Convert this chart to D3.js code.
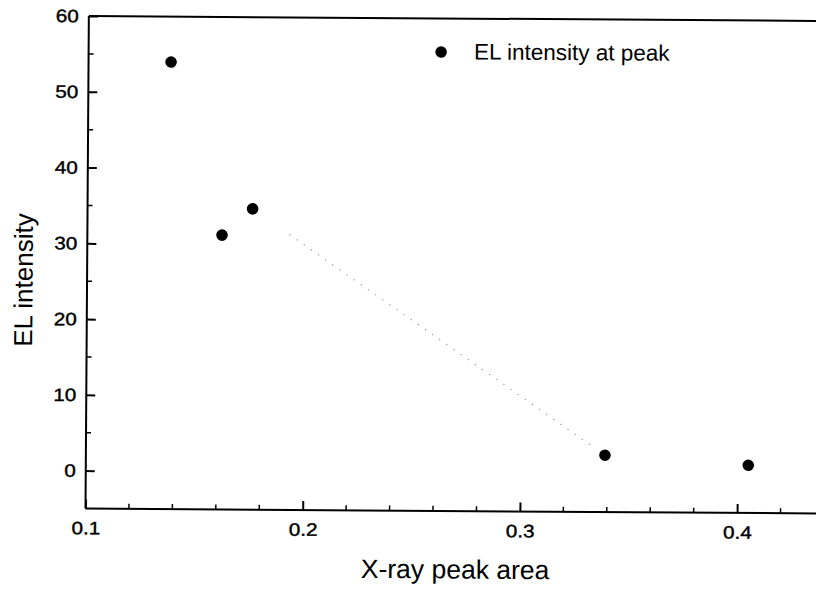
<!DOCTYPE html>
<html>
<head>
<meta charset="utf-8">
<script src="https://cdn.jsdelivr.net/npm/d3@7"></script>
<style>
  html, body { margin: 0; padding: 0; background: #fff; }
  svg { display: block; }
  text { font-family: "Liberation Sans", Arial, sans-serif; fill: #000; }
</style>
</head>
<body>
<svg id="chart" width="816" height="591"></svg>
<script>
// ---- data ----
const xValues = [0.138, 0.162, 0.176, 0.339, 0.405];
const yValues = [54.0, 31.2, 34.7, 2.5, 1.3];
const seriesName = "EL intensity at peak";
const xTicks = [0.1, 0.2, 0.3, 0.4];
const yTicks = [0, 10, 20, 30, 40, 50, 60];
const xLabel = "X-ray peak area";
const yLabel = "EL intensity";
// dotted guide between 3rd and 4th points
const guideIdx = [2, 3];

// ---- layout ----
const svg = d3.select("#chart");
const ox = 85.5, oy = 508.5;
const x = d3.scaleLinear().domain([0.1, 0.45]).range([ox, ox + 0.35 * 2172]);
const y = d3.scaleLinear().domain([-5, 60]).range([oy, 16]);
const stretch = 1.15;

const g = svg.append("g").attr("transform", `rotate(0.39, ${ox}, ${oy})`);

// frame top line
g.append("line")
  .attr("x1", x(0.1)).attr("x2", x(0.45))
  .attr("y1", y(60)).attr("y2", y(60))
  .attr("stroke", "#000").attr("stroke-width", 2);

// x axis
const xAxis = d3.axisBottom(x).tickValues(xTicks).tickFormat(d3.format(".1f"))
  .tickSizeInner(-9).tickSizeOuter(0).tickPadding(13);
const gx = g.append("g").attr("transform", `translate(0,${oy})`).call(xAxis);
const xMinor = d3.range(0.12, 0.45, 0.02).filter(v => !xTicks.some(t => Math.abs(t - v) < 1e-6));
gx.selectAll(".minor").data(xMinor).enter().append("line")
  .attr("class", "minor")
  .attr("x1", d => x(d)).attr("x2", d => x(d))
  .attr("y1", 0).attr("y2", -5).attr("stroke", "#000").attr("stroke-width", 1.5);

// y axis
const yAxis = d3.axisLeft(y).tickValues(yTicks).tickFormat(d3.format("d"))
  .tickSizeInner(-9).tickSizeOuter(0).tickPadding(10);
const gy = g.append("g").attr("transform", `translate(${ox},0)`).call(yAxis);
const yMinor = d3.range(-5, 60, 5).filter(v => !yTicks.includes(v) && v > -5);
gy.selectAll(".minor").data(yMinor).enter().append("line")
  .attr("class", "minor")
  .attr("x1", 0).attr("x2", 5)
  .attr("y1", d => y(d)).attr("y2", d => y(d))
  .attr("stroke", "#000").attr("stroke-width", 1.5);

[gx, gy].forEach(a => {
  a.attr("font-size", null).attr("font-family", null);
  a.select(".domain").attr("stroke", "#000").attr("stroke-width", 2);
  a.selectAll(".tick line").attr("stroke", "#000").attr("stroke-width", 2);
  a.selectAll(".tick text")
   .attr("font-size", 18)
   .style("font-size", "18px")
   .style("font-family", '"Liberation Sans", Arial, sans-serif')
   .style("stroke", "#000").style("stroke-width", "0.4px")
   .attr("transform", `scale(${stretch},1)`);
});
gy.selectAll(".tick text").attr("x", -10 / stretch);
gy.select(".domain").attr("d", `M0,${y(-5)}V${y(60)}`);
gx.select(".domain").attr("d", `M${x(0.1)},0H${x(0.45)}`);

// dotted guide line
const pts = xValues.map((v, i) => [x(v), y(yValues[i])]);
const guide = g.append("path")
  .attr("d", d3.line()(guideIdx.map(i => pts[i])))
  .attr("fill", "none").attr("stroke", "#9a9a9a").attr("stroke-width", 1.2);
const L = guide.node().getTotalLength();
const startGap = 45, endGap = 10;
let dash = [0, startGap];
let used = startGap;
while (used + 8 < L - endGap) { dash.push(1.2, 7.5); used += 8.7; }
dash.push(0, L);
guide.attr("stroke-dasharray", dash.join(","));

// points
g.selectAll(".pt").data(pts).enter().append("circle")
  .attr("class", "pt")
  .attr("cx", d => d[0]).attr("cy", d => d[1]).attr("r", 5.8)
  .attr("fill", "#000");

// legend
g.append("circle").attr("cx", 438).attr("cy", 49.6).attr("r", 5.8).attr("fill", "#000");
g.append("text").attr("x", 471).attr("y", 56.8).style("font-size", "22.5px").text(seriesName);

// axis titles
g.append("text").attr("x", 455.5).attr("y", 576).attr("text-anchor", "middle")
  .style("font-size", "26.5px").text(xLabel);
g.append("text").attr("transform", `translate(31,280.4) rotate(-90)`)
  .attr("text-anchor", "middle").style("font-size", "26px").text(yLabel);
</script>
</body>
</html>
